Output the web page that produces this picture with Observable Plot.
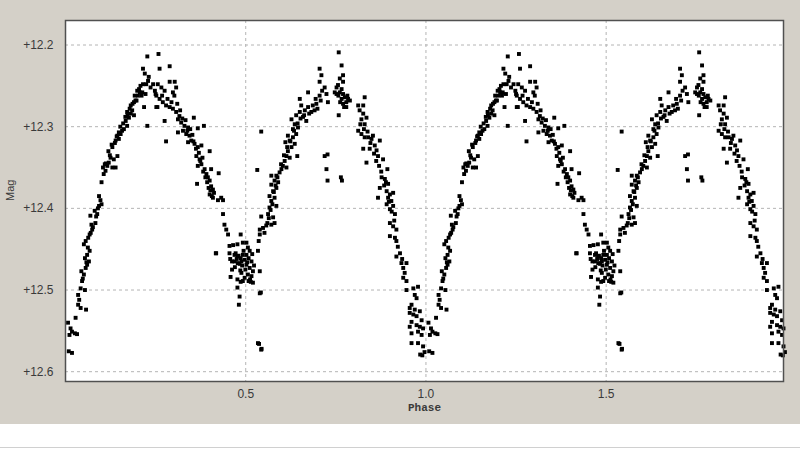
<!DOCTYPE html>
<html>
<head>
<meta charset="utf-8">
<script src="https://cdn.jsdelivr.net/npm/d3@7"></script>
<script src="https://cdn.jsdelivr.net/npm/@observablehq/plot@0.6"></script>
<style>
  html, body { margin: 0; padding: 0; background: #ffffff; }
  #wrap { width: 800px; height: 424px; background: #d4d0c8; }
  #foot { width: 800px; height: 23px; background: #ffffff; border-bottom: 1px solid #d0d0d0; }
  svg { display: block; }
</style>
</head>
<body>
<div id="wrap"></div>
<div id="foot"></div>
<script>
// The plot shows the cycle twice (phase and phase + 1).
const phase = [
  0.009,0.018,0.007,0.014,0.018,0.026,0.032,0.028,0.011,
  0.035,0.042,0.057,0.035,0.042,0.054,0.046,0.051,0.044,0.056,0.060,0.065,0.054,0.060,0.067,0.051,0.056,0.063,0.067,0.074,0.072,0.083,0.069,0.088,0.081,0.093,0.100,0.093,
  0.100,0.106,0.111,0.104,0.116,0.109,0.120,0.130,0.139,0.134,0.144,0.125,0.119,0.130,0.139,0.148,0.144,0.153,0.157,0.148,0.162,0.171,0.167,0.176,0.181,0.185,0.190,0.171,0.181,0.190,0.194,0.199,0.204,0.208,0.215,0.213,0.222,0.218,0.227,0.220,0.215,0.227,0.231,0.236,0.243,0.248,0.255,0.250,
  0.258,0.261,0.289,0.256,0.266,0.275,0.289,0.303,0.307,0.298,0.252,0.261,0.270,0.279,0.289,0.298,0.307,0.316,0.252,0.275,0.312,0.321,0.330,0.340,0.356,0.367,0.384,0.312,0.326,0.335,0.344,0.349,0.340,0.279,0.358,0.367,0.377,0.400,0.363,0.372,0.377,0.367,0.386,0.404,0.425,0.391,0.395,0.365,0.400,0.404,0.409,0.400,0.409,0.423,0.437,0.432,0.412,
  0.437,0.441,0.446,0.451,0.486,0.418,0.455,0.465,0.477,0.492,0.455,0.469,0.478,0.486,0.492,0.469,0.478,0.488,0.497,0.462,0.488,0.492,0.477,0.483,
  0.472,0.475,0.480,0.483,0.490,0.494,0.499,0.504,0.470,0.462,0.457,0.485,0.497,0.512,0.518,0.523,0.458,0.477,0.481,0.417,0.486,0.514,0.542,
  0.502,0.506,0.511,0.502,0.508,0.516,0.502,0.511,0.520,0.506,0.516,0.508,0.520,0.539,0.539,0.534,0.543,0.537,0.544,
  0.534,0.536,0.539,0.539,0.548,0.543,0.560,0.571,0.580,0.562,0.576,0.566,0.585,0.571,0.580,0.566,0.576,0.585,0.571,0.580,0.590,0.571,0.585,0.532,0.599,0.603,0.613,0.608,0.613,0.622,0.617,0.627,0.636,0.610,0.643,0.622,0.631,0.617,0.543,0.640,0.631,0.645,0.636,0.627,0.640,0.650,0.659,0.668,0.664,0.673,0.682,0.691,0.654,0.650,0.673,0.699,0.696,0.705,0.712,0.719,0.724,0.708,0.728,0.705,0.710,0.705,0.719,0.727,0.724,0.727,0.747,
  0.758,0.766,0.770,0.761,0.770,0.756,0.766,0.761,0.752,0.770,0.775,0.784,0.766,0.779,0.770,0.789,0.779,0.758,0.764,0.767,
  0.812,0.826,0.830,0.816,0.826,0.821,0.835,0.830,0.812,0.821,0.830,0.840,0.849,0.853,0.872,0.826,0.844,0.858,0.863,0.867,0.881,0.835,0.893,0.877,0.886,0.895,0.872,0.891,0.900,0.909,0.867,0.895,0.904,0.891,0.909,0.900,0.914,0.900,0.909,0.918,0.900,0.914,0.918,
  0.918,0.932,0.946,0.937,0.941,0.937,0.946,0.965,0.978,0.946,0.969,0.974,0.960,0.955,0.969,0.965,0.955,0.974,0.983,0.988,0.960,0.974,0.983,0.955,0.992,0.978,0.960,0.988,0.978,0.960,0.992,0.990,0.996,0.984,
  0.112,0.123,0.128,0.137,0.142,0.152,0.160,0.166,0.172,0.178,0.186,0.192,0.197,0.201,0.206,0.211,0.224,0.229,
  0.268,0.283,0.294,0.302,0.310,0.318,0.324,0.333,0.338,0.346,0.352,0.355,0.362,0.370,0.374,0.380,0.382,0.388,0.393,0.397,0.402,0.406,
  0.552,0.557,0.564,0.569,0.574,0.578,0.583,0.588,0.594,0.598,0.606,0.615,0.624,0.634,0.644,0.652,0.662,0.676,0.686,0.694,
  0.818,0.828,0.838,0.846,0.856,0.862,0.870,0.876,0.884,0.889,0.897,0.905,0.912,0.922,0.928,0.934,
  0.038,0.048,0.058,0.062,0.070,0.076,0.085,0.090,0.097,
  0.752,0.757,0.762,0.773,0.782
];
const mag = [
  12.575,12.577,12.540,12.547,12.551,12.553,12.554,12.534,12.555,
  12.518,12.522,12.524,12.506,12.498,12.500,12.489,12.481,12.477,12.473,12.469,12.465,12.461,12.457,12.452,12.444,12.440,12.436,12.432,12.426,12.420,12.418,12.409,12.407,12.403,12.397,12.395,12.385,
  12.368,12.358,12.354,12.350,12.348,12.346,12.344,12.350,12.350,12.340,12.336,12.338,12.330,12.325,12.317,12.315,12.311,12.309,12.305,12.307,12.303,12.299,12.293,12.289,12.284,12.280,12.286,12.282,12.274,12.270,12.268,12.256,12.254,12.250,12.248,12.258,12.260,12.276,12.299,12.235,12.229,12.214,12.239,12.252,12.248,12.256,12.276,12.260,
  12.211,12.229,12.226,12.248,12.252,12.256,12.245,12.245,12.252,12.258,12.262,12.266,12.270,12.274,12.276,12.278,12.282,12.287,12.276,12.293,12.291,12.295,12.299,12.301,12.289,12.302,12.299,12.307,12.305,12.309,12.311,12.317,12.319,12.318,12.321,12.325,12.323,12.330,12.336,12.340,12.346,12.348,12.352,12.352,12.357,12.358,12.362,12.370,12.366,12.373,12.377,12.383,12.387,12.390,12.390,12.387,12.381,
  12.407,12.420,12.426,12.432,12.432,12.455,12.446,12.445,12.444,12.442,12.455,12.457,12.459,12.461,12.457,12.465,12.467,12.465,12.463,12.475,12.479,12.489,12.487,12.508,
  12.455,12.462,12.458,12.468,12.470,12.452,12.475,12.466,12.472,12.465,12.462,12.476,12.485,12.487,12.456,12.470,12.484,12.497,12.518,12.455,12.490,12.490,12.503,
  12.442,12.448,12.452,12.457,12.461,12.465,12.469,12.473,12.477,12.481,12.483,12.489,12.491,12.477,12.504,12.565,12.573,12.566,12.572,
  12.452,12.440,12.432,12.426,12.424,12.410,12.418,12.420,12.418,12.407,12.411,12.399,12.397,12.391,12.387,12.385,12.379,12.375,12.371,12.366,12.368,12.360,12.360,12.353,12.352,12.348,12.350,12.342,12.336,12.338,12.330,12.325,12.321,12.319,12.336,12.317,12.313,12.311,12.306,12.309,12.303,12.301,12.297,12.291,12.286,12.282,12.288,12.293,12.280,12.276,12.282,12.280,12.274,12.266,12.258,12.278,12.272,12.262,12.256,12.252,12.260,12.268,12.270,12.245,12.237,12.229,12.336,12.334,12.352,12.366,12.258,
  12.209,12.225,12.237,12.241,12.245,12.249,12.254,12.258,12.260,12.260,12.264,12.266,12.266,12.270,12.272,12.268,12.276,12.286,12.362,12.366,
  12.274,12.274,12.264,12.280,12.284,12.291,12.289,12.297,12.305,12.309,12.313,12.313,12.315,12.311,12.317,12.327,12.327,12.323,12.329,12.336,12.340,12.344,12.352,12.362,12.364,12.370,12.375,12.379,12.383,12.381,12.387,12.387,12.391,12.395,12.397,12.401,12.407,12.418,12.422,12.426,12.434,12.436,12.440,
  12.459,12.467,12.467,12.473,12.479,12.485,12.489,12.498,12.496,12.500,12.506,12.510,12.518,12.522,12.524,12.530,12.528,12.532,12.526,12.537,12.539,12.543,12.545,12.545,12.547,12.551,12.553,12.555,12.565,12.565,12.569,12.580,12.576,12.579,
  12.345,12.335,12.322,12.320,12.312,12.300,12.296,12.288,12.286,12.278,12.272,12.262,12.268,12.262,12.258,12.262,12.248,12.244,
  12.262,12.266,12.270,12.262,12.272,12.280,12.290,12.292,12.305,12.303,12.310,12.318,12.327,12.332,12.342,12.338,12.355,12.362,12.368,12.375,12.378,12.385,
  12.430,12.421,12.412,12.402,12.395,12.380,12.372,12.362,12.356,12.346,12.335,12.325,12.318,12.305,12.296,12.290,12.286,12.284,12.274,12.266,
  12.297,12.303,12.306,12.320,12.333,12.342,12.348,12.355,12.372,12.368,12.392,12.404,12.415,12.447,12.455,12.462,
  12.512,12.486,12.466,12.448,12.430,12.423,12.410,12.400,12.390,
  12.252,12.262,12.270,12.276,12.262
];
const cycles = [0, 1];
const xTicks = [0.5, 1.0, 1.5];
const yTicks = [12.2, 12.3, 12.4, 12.5, 12.6];

const points = [];
for (const c of cycles) {
  for (let i = 0; i < phase.length; i++) points.push({phase: phase[i] + c, mag: mag[i]});
}

const font = "'Liberation Sans', Arial, sans-serif";
const chart = Plot.plot({
  width: 800,
  height: 424,
  marginLeft: 65,
  marginRight: 17,
  marginTop: 20,
  marginBottom: 43,
  style: {background: "#d4d0c8", fontFamily: font, fontSize: "12px", color: "#3a3a3a"},
  x: {domain: [0, 1.992], label: null},
  y: {domain: [12.612, 12.17], label: null},
  marks: [
    Plot.frame({fill: "white", stroke: null}),
    Plot.gridX(xTicks, {stroke: "#b4b4b4", strokeOpacity: 1, strokeDasharray: "3,3"}),
    Plot.gridY(yTicks, {stroke: "#b4b4b4", strokeOpacity: 1, strokeDasharray: "3,3"}),
    Plot.dot(points, {x: "phase", y: "mag", symbol: "square", r: 2.2, fill: "black", stroke: null}),
    Plot.frame({stroke: "#505050", strokeWidth: 1.5}),
    Plot.axisX(xTicks, {tickSize: 0, tickPadding: 8, tickFormat: d => d.toFixed(1), label: null, fontSize: 12, fill: "#3a3a3a"}),
    Plot.axisY(yTicks, {tickSize: 0, tickPadding: 12, tickFormat: d => "+" + d.toFixed(1), label: null, fontSize: 12, fill: "#3a3a3a"}),
    Plot.text(["Phase"], {frameAnchor: "bottom", dy: 29, text: d => d, fontFamily: "'Liberation Mono', 'Courier New', monospace", fontSize: 11, fontWeight: "bold", fill: "#3a3a3a"}),
    Plot.text(["Mag"], {frameAnchor: "left", dx: -55, rotate: -90, text: d => d, fontSize: 11, fill: "#3a3a3a"})
  ]
});
document.getElementById("wrap").appendChild(chart);
</script>
</body>
</html>
